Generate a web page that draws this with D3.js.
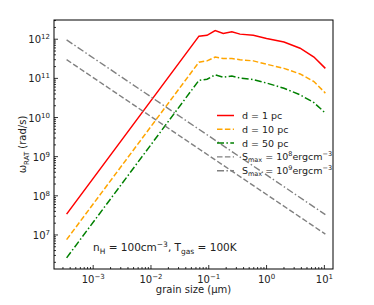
<!DOCTYPE html>
<html>
<head>
<meta charset="utf-8">
<script src="https://cdn.jsdelivr.net/npm/d3@7"></script>
<style>
  body { margin: 0; background: #fff; }
  svg text { font-family: "DejaVu Sans", sans-serif; fill: #222; }
</style>
</head>
<body>
<svg id="chart" width="374" height="305"></svg>
<script>
// grain size (um), shared by the three RAT curves
const grainSize = [3.47e-4, 0.0676, 0.0933, 0.129, 0.178, 0.251, 0.347, 0.589, 1.0, 2.0, 3.8, 6.6, 10.4]
const omega1pc  = [3.4e7, 1.2e12, 1.26e12, 1.66e12, 1.41e12, 1.55e12, 1.35e12, 1.26e12, 1.05e12, 8.5e11, 5.9e11, 3.5e11, 1.8e11]
const omega10pc = [7.6e6, 2.6e11, 2.8e11, 3.5e11, 3.2e11, 3.2e11, 3.0e11, 2.8e11, 2.3e11, 1.8e11, 1.3e11, 8.3e10, 4.2e10]
const omega50pc = [2.6e6, 8.9e10, 9.5e10, 1.23e11, 1.07e11, 1.15e11, 1.02e11, 9.3e10, 7.6e10, 5.6e10, 3.8e10, 2.4e10, 1.3e10]

// disruption limits
const disruptSize = [3.47e-4, 10.4]
const omegaS8 = [3.0e11, 1.05e7]
const omegaS9 = [9.6e11, 3.3e7]

const xTicks = [1e-3, 1e-2, 1e-1, 1e0, 1e1]
const xTickExp = ["−3", "−2", "−1", "0", "1"]
const yTicks = [1e7, 1e8, 1e9, 1e10, 1e11, 1e12]
const yTickExp = ["7", "8", "9", "10", "11", "12"]

const svg = d3.select("#chart")
const mLeft = 54, mRight = 333, mTop = 20, mBottom = 269

const x = d3.scaleLog().domain([2.1e-4, 14.1]).range([mLeft, mRight])
const y = d3.scaleLog().domain([1.35e6, 3.1e12]).range([mBottom, mTop])

const line = d3.line()
  .x(d => x(d[0]))
  .y(d => y(d[1]))

const series = [
  { label: "d = 1 pc", xs: grainSize, ys: omega1pc, color: "#ff0000", dash: null, w: 1.5 },
  { label: "d = 10 pc", xs: grainSize, ys: omega10pc, color: "#ffa500", dash: "5.5,2.4", w: 1.5 },
  { label: "d = 50 pc", xs: grainSize, ys: omega50pc, color: "#008000", dash: "7,2.4,1.5,2.4", w: 1.5 },
  { label: "S8", xs: disruptSize, ys: omegaS8, color: "#808080", dash: "5.5,2.4", w: 1.4 },
  { label: "S9", xs: disruptSize, ys: omegaS9, color: "#808080", dash: "7,2.4,1.5,2.4", w: 1.4 }
]

svg.selectAll("path.curve")
  .data(series)
  .enter()
  .append("path")
  .attr("class", "curve")
  .attr("fill", "none")
  .attr("stroke", d => d.color)
  .attr("stroke-width", d => d.w)
  .attr("stroke-dasharray", d => d.dash)
  .attr("d", d => line(d.xs.map((v, i) => [v, d.ys[i]])))

// frame
svg.append("rect")
  .attr("x", mLeft).attr("y", mTop)
  .attr("width", mRight - mLeft).attr("height", mBottom - mTop)
  .attr("fill", "none").attr("stroke", "#000").attr("stroke-width", 1)

// ticks pointing inward
const isMajor = (list, d) => list.some(t => Math.abs(t / d - 1) < 1e-6)
const xMinor = x.ticks().filter(t => t >= x.domain()[0] && t <= x.domain()[1])
svg.selectAll("line.xt")
  .data(xMinor)
  .enter()
  .append("line")
  .attr("x1", d => x(d)).attr("x2", d => x(d))
  .attr("y1", mBottom)
  .attr("y2", d => mBottom - (isMajor(xTicks, d) ? 4 : 2))
  .attr("stroke", "#000").attr("stroke-width", 0.8)

const yMinor = y.ticks().filter(t => t >= y.domain()[0] && t <= y.domain()[1])
svg.selectAll("line.yt")
  .data(yMinor)
  .enter()
  .append("line")
  .attr("y1", d => y(d)).attr("y2", d => y(d))
  .attr("x1", mLeft)
  .attr("x2", d => mLeft + (isMajor(yTicks, d) ? 4 : 2))
  .attr("stroke", "#000").attr("stroke-width", 0.8)

// tick labels
const xl = svg.selectAll("text.xl")
  .data(xTicks)
  .enter()
  .append("text")
  .attr("x", d => x(d))
  .attr("y", mBottom + 14)
  .attr("text-anchor", "middle")
  .attr("font-size", 10)
xl.append("tspan").text("10")
xl.append("tspan").attr("dy", -4).attr("font-size", 7).text((d, i) => xTickExp[i])

const yl = svg.selectAll("text.yl")
  .data(yTicks)
  .enter()
  .append("text")
  .attr("x", mLeft - 4)
  .attr("y", d => y(d) + 4)
  .attr("text-anchor", "end")
  .attr("font-size", 10)
yl.append("tspan").text("10")
yl.append("tspan").attr("dy", -4).attr("font-size", 7).text((d, i) => yTickExp[i])

// axis titles
svg.append("text")
  .attr("x", (mLeft + mRight) / 2)
  .attr("y", 293)
  .attr("text-anchor", "middle")
  .attr("font-size", 10)
  .text("grain size (μm)")

const yt = svg.append("text")
  .attr("transform", "translate(26," + ((mTop + mBottom) / 2) + ") rotate(-90)")
  .attr("text-anchor", "middle")
  .attr("font-size", 10)
yt.append("tspan").text("ω")
yt.append("tspan").attr("dy", 3).attr("font-size", 7).text("RAT")
yt.append("tspan").attr("dy", -3).text(" (rad/s)")

// annotation
const ann = svg.append("text")
  .attr("x", 93).attr("y", 250.5)
  .attr("font-size", 10.5)
ann.append("tspan").text("n")
ann.append("tspan").attr("dy", 3).attr("font-size", 7.5).text("H")
ann.append("tspan").attr("dy", -3).text(" = 100cm")
ann.append("tspan").attr("dy", -4).attr("font-size", 7.5).text("−3")
ann.append("tspan").attr("dy", 4).text(",  T")
ann.append("tspan").attr("dy", 3).attr("font-size", 7.5).text("gas")
ann.append("tspan").attr("dy", -3).text(" = 100K")

// legend
const legend = svg.selectAll("g.leg")
  .data(series)
  .enter()
  .append("g")
  .attr("transform", (d, i) => "translate(217," + (115.5 + i * 13.8) + ")")

legend.append("line")
  .attr("x1", 0).attr("x2", 17)
  .attr("stroke", d => d.color)
  .attr("stroke-width", d => d.w)
  .attr("stroke-dasharray", d => d.dash)

const lt = legend.append("text")
  .attr("x", 25).attr("y", 3.5)
  .attr("font-size", 9.5)
lt.filter(d => d.label.startsWith("d")).text(d => d.label)
const st = lt.filter(d => d.label.startsWith("S"))
st.append("tspan").text("S")
st.append("tspan").attr("dy", 2).attr("font-size", 6.5).text("max")
st.append("tspan").attr("dy", -2).text(" = 10")
st.append("tspan").attr("dy", -4).attr("font-size", 6.5).text(d => d.label.slice(1))
st.append("tspan").attr("dy", 4).text("ergcm")
st.append("tspan").attr("dy", -4).attr("font-size", 6.5).text("−3")
</script>
</body>
</html>
